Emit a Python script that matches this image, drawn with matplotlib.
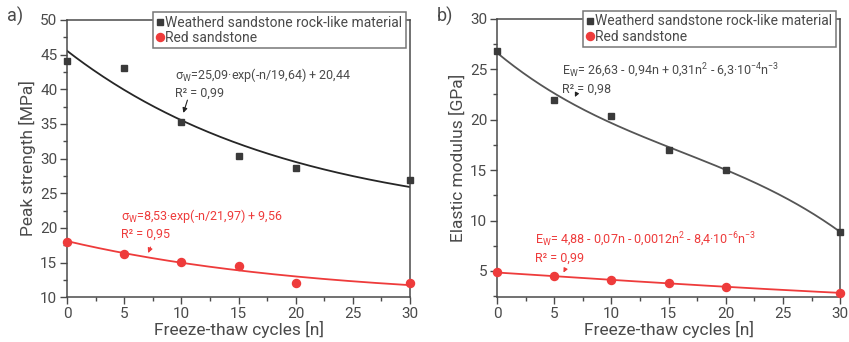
import numpy as np
import matplotlib.pyplot as plt
from matplotlib.ticker import MultipleLocator

plt.rcParams['font.family'] = ['Roboto', 'DejaVu Sans']
plt.rcParams['mathtext.fontset'] = 'custom'
plt.rcParams['mathtext.rm'] = 'Roboto'
plt.rcParams['mathtext.it'] = 'Roboto:italic'

cycles = [0, 5, 10, 15, 20, 30]

# peak strength [MPa]
strength_weathered = [44.0, 43.0, 35.3, 30.4, 28.7, 26.9]
strength_red = [18.0, 16.2, 15.1, 14.5, 12.1, 12.0]

# elastic modulus [GPa]
modulus_weathered = [26.8, 22.0, 20.4, 17.0, 15.0, 8.9]
modulus_red = [4.85, 4.47, 4.13, 3.77, 3.43, 2.83]

GRAY = '#4a4a4a'
RED = '#ee3b3b'
DARK = '#3a3a3a'


def exp_fit(n, a, t, c):
    return a * np.exp(-n / t) + c


def style_axes(ax, ylim, ymaj, ymin):
    ax.set_xlim(0, 30)
    ax.set_ylim(*ylim)
    ax.xaxis.set_major_locator(MultipleLocator(5))
    ax.xaxis.set_minor_locator(MultipleLocator(2.5))
    ax.yaxis.set_major_locator(MultipleLocator(ymaj))
    ax.yaxis.set_minor_locator(MultipleLocator(ymin))
    ax.tick_params(which='major', direction='out', length=5, width=1, colors=GRAY,
                   labelsize=11, labelcolor=GRAY, top=False, right=False, pad=2)
    ax.tick_params(which='minor', direction='out', length=3, width=1, colors=GRAY,
                   top=False, right=False)
    for s in ax.spines.values():
        s.set_color(GRAY)
        s.set_linewidth(1.1)
    ax.set_xlabel('Freeze-thaw cycles [n]', fontsize=12.5, color=GRAY, labelpad=0)


def add_legend(ax):
    leg = ax.legend(loc='upper right', bbox_to_anchor=(0.988, 1.028), fontsize=10,
                    handlelength=0.5, handletextpad=0.15, borderpad=0.25,
                    labelspacing=0.1, borderaxespad=0, fancybox=False,
                    framealpha=1, edgecolor='#777777')
    leg.get_frame().set_linewidth(1.1)
    for t in leg.get_texts():
        t.set_color(GRAY)
    leg.set_zorder(5)


fig = plt.figure(figsize=(8.49, 3.42), dpi=100)
ax1 = fig.add_axes([0.079, 0.131, 0.404, 0.811])
ax2 = fig.add_axes([0.5855, 0.131, 0.404, 0.814])

n = np.linspace(0, 30, 200)

# a) peak strength
ax1.plot(n, exp_fit(n, 25.09, 19.64, 20.44), color='#262626', lw=1.3, zorder=2)
ax1.plot(n, exp_fit(n, 8.53, 21.97, 9.56), color=RED, lw=1.3, zorder=2)
ax1.plot(cycles, strength_weathered, 's', color=DARK, ms=4.6,
         label='Weatherd sandstone rock-like material', clip_on=False, zorder=3)
ax1.plot(cycles, strength_red, 'o', color=RED, ms=5.8,
         label='Red sandstone', clip_on=False, zorder=3)
style_axes(ax1, (10, 50), 5, 2.5)
ax1.set_ylabel('Peak strength [MPa]', fontsize=12.5, color=GRAY, labelpad=3)
add_legend(ax1)

ax1.text(9.4, 42.0, r'σ$_\mathrm{W}$=25,09·exp(-n/19,64) + 20,44', fontsize=9,
         color=GRAY, va='center')
ax1.text(9.4, 39.4, 'R² = 0,99', fontsize=9, color=GRAY, va='center')
ax1.annotate('', xy=(10.1, 36.2), xytext=(10.6, 38.8),
             arrowprops=dict(arrowstyle='-|>', color='#222222', lw=0.8,
                             mutation_scale=7))

ax1.text(4.7, 21.7, r'σ$_\mathrm{W}$=8,53·exp(-n/21,97) + 9,56', fontsize=9,
         color=RED, va='center')
ax1.text(4.7, 19.1, 'R² = 0,95', fontsize=9, color=RED, va='center')
ax1.annotate('', xy=(7.0, 16.0), xytext=(7.4, 17.6),
             arrowprops=dict(arrowstyle='-|>', color=RED, lw=0.8,
                             mutation_scale=7))

# b) elastic modulus, cubic fits
cw = np.polyfit(cycles, modulus_weathered, 3)
cr = np.polyfit(cycles, modulus_red, 3)
ax2.plot(n, np.polyval(cw, n), color='#555555', lw=1.3, zorder=2)
ax2.plot(n, np.polyval(cr, n), color=RED, lw=1.3, zorder=2)
ax2.plot(cycles, modulus_weathered, 's', color=DARK, ms=4.6,
         label='Weatherd sandstone rock-like material', clip_on=False, zorder=3)
ax2.plot(cycles, modulus_red, 'o', color=RED, ms=5.8,
         label='Red sandstone', clip_on=False, zorder=3)
style_axes(ax2, (2.4, 30), 5, 2.5)
ax2.set_ylabel('Elastic modulus [GPa]', fontsize=12.5, color=GRAY, labelpad=3)
add_legend(ax2)

ax2.text(5.7, 24.8, r'E$_\mathrm{W}$= 26,63 - 0,94n + 0,31n$^2$ - 6,3·10$^{-4}$n$^{-3}$',
         fontsize=9, color=GRAY, va='center')
ax2.text(5.7, 23.0, 'R² = 0,98', fontsize=9, color=GRAY, va='center')
ax2.annotate('', xy=(6.7, 22.0), xytext=(7.0, 22.7),
             arrowprops=dict(arrowstyle='-|>', color='#222222', lw=0.8,
                             mutation_scale=6))

ax2.text(3.3, 8.1, r'E$_\mathrm{W}$= 4,88 - 0,07n - 0,0012n$^2$ - 8,4·10$^{-6}$n$^{-3}$',
         fontsize=9, color=RED, va='center')
ax2.text(3.3, 6.3, 'R² = 0,99', fontsize=9, color=RED, va='center')
ax2.annotate('', xy=(5.7, 4.6), xytext=(6.1, 5.5),
             arrowprops=dict(arrowstyle='-|>', color=RED, lw=0.8,
                             mutation_scale=6))

fig.text(0.008, 0.935, 'a)', fontsize=13, color=GRAY)
fig.text(0.515, 0.935, 'b)', fontsize=13, color=GRAY)

fig.savefig('out.png', dpi=100)
